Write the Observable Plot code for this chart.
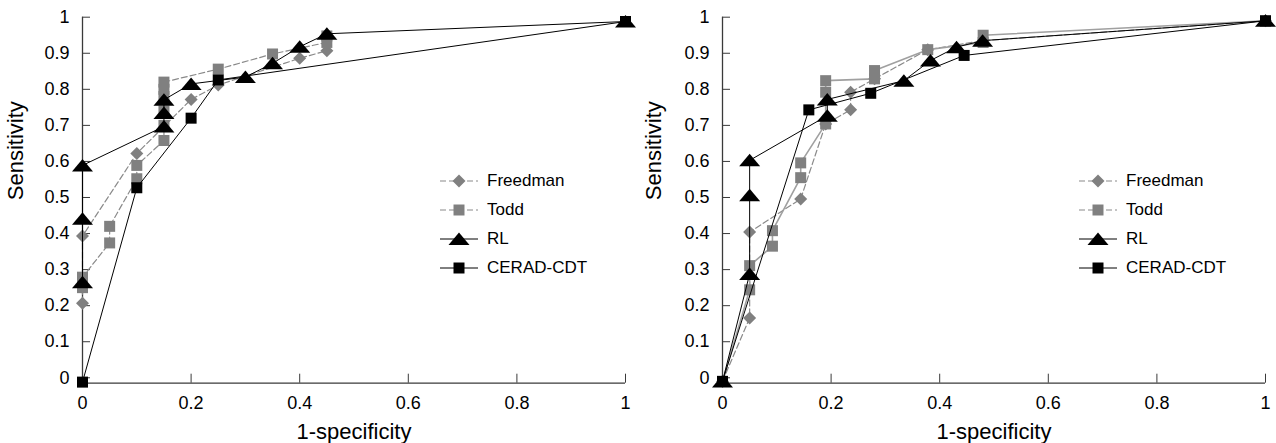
<!DOCTYPE html>
<html><head><meta charset="utf-8">
<script src="https://cdn.jsdelivr.net/npm/d3@7"></script>
<script src="https://cdn.jsdelivr.net/npm/@observablehq/plot@0.6"></script>
<style>
html,body{margin:0;padding:0;background:#fff;}
#wrap{position:relative;width:1276px;height:443px;display:flex;font-family:"Liberation Sans",Arial,sans-serif;}
.legend{position:absolute;font-size:17px;color:#000;}
.legend .row{display:flex;align-items:center;height:29px;}
.legend svg{margin-right:9px;overflow:visible}
</style></head><body><div id="wrap"></div>
<script>
// ---- data ----
const xTicks = [0, 0.2, 0.4, 0.6, 0.8, 1];
const yTicks = [0, 0.1, 0.2, 0.3, 0.4, 0.5, 0.6, 0.7, 0.8, 0.9, 1];
const seriesNames = ["Freedman", "Todd", "RL", "CERAD-CDT"];
const xTitle = "1-specificity";
const yTitle = "Sensitivity";

// left panel [1-specificity, sensitivity]
const freedmanLeft = [[0,0.207],[0,0.393],[0.1,0.622],[0.2,0.772],[0.25,0.812],[0.4,0.886],[0.45,0.907]];
const toddLeft = [[0,0.25],[0,0.279],[0.05,0.374],[0.05,0.42],[0.1,0.552],[0.1,0.589],[0.15,0.658],[0.15,0.70],[0.15,0.74],[0.15,0.78],[0.15,0.80],[0.15,0.82],[0.25,0.856],[0.35,0.898],[0.45,0.93],[0.45,0.948]];
const rlLeft = [[0,0.265],[0,0.441],[0,0.589],[0.15,0.697],[0.15,0.734],[0.15,0.771],[0.2,0.815],[0.3,0.834],[0.35,0.872],[0.4,0.918],[0.45,0.954],[1,0.988]];
const ceradLeft = [[0,-0.012],[0.1,0.527],[0.2,0.72],[0.25,0.826],[1,0.988]];

// right panel
const freedmanRight = [[0,-0.01],[0.05,0.166],[0.05,0.404],[0.144,0.496],[0.19,0.704],[0.236,0.743],[0.236,0.792],[0.28,0.829],[0.378,0.91],[0.48,0.935],[1,0.99]];
const toddRight = [[0,-0.01],[0.05,0.244],[0.05,0.311],[0.092,0.365],[0.092,0.408],[0.144,0.555],[0.144,0.596],[0.19,0.704],[0.19,0.792],[0.19,0.824],[0.28,0.829],[0.28,0.852],[0.378,0.91],[0.48,0.93],[0.48,0.95],[1,0.99]];
const rlRight = [[0,-0.01],[0.05,0.288],[0.05,0.506],[0.05,0.603],[0.193,0.727],[0.193,0.772],[0.334,0.824],[0.383,0.88],[0.431,0.917],[0.479,0.935],[1,0.99]];
const ceradRight = [[0,-0.01],[0.159,0.743],[0.273,0.789],[0.445,0.894],[1,0.99]];

// ---- styles ----
const diamond = {draw(c){c.moveTo(0,-6.5);c.lineTo(6.5,0);c.lineTo(0,6.5);c.lineTo(-6.5,0);c.closePath();}};
const square = {draw(c){c.moveTo(-5.5,-5.5);c.lineTo(5.5,-5.5);c.lineTo(5.5,5.5);c.lineTo(-5.5,5.5);c.closePath();}};
const triangle = {draw(c){c.moveTo(0,-6.5);c.lineTo(10.5,6);c.lineTo(-10.5,6);c.closePath();}};

const styleLeft = {
  "Freedman": {stroke:"#8a8a8a", width:1.2, dash:"6,3", fill:"#808080", symbol:diamond},
  "Todd": {stroke:"#8a8a8a", width:1.2, dash:"6,3", fill:"#808080", symbol:square},
  "RL": {stroke:"#000", width:1, dash:null, fill:"#000", symbol:triangle},
  "CERAD-CDT": {stroke:"#000", width:1, dash:null, fill:"#000", symbol:square}
};
const styleRight = {
  ...styleLeft,
  "Todd": {stroke:"#a0a0a0", width:1.6, dash:null, fill:"#808080", symbol:square}
};

const axisColor = "#3a3a3a";
const yMin = -0.015;

function panel(seriesData, style, marginLeft, marginRight) {
  const marks = [
    Plot.ruleY([yMin], {x1: 0, x2: 1, stroke: axisColor, strokeWidth: 1.3}),
    Plot.ruleX([0], {y1: yMin, y2: 1, stroke: axisColor, strokeWidth: 1.3}),
    Plot.ruleY(yTicks, {y: d => d, x1: 0, x2: 0, insetRight: -8, stroke: axisColor}),
    Plot.ruleX(xTicks, {x: d => d, y1: yMin, y2: yMin, insetTop: -9, stroke: axisColor}),
    Plot.axisY({ticks: yTicks, tickSize: 0, tickPadding: 13, tickFormat: d => String(d), label: null, fontSize: 18}),
    Plot.axisX({ticks: xTicks, tickSize: 0, tickPadding: 13, tickFormat: d => String(d), label: null, fontSize: 18}),
    Plot.text([xTitle], {text: d => d, frameAnchor: "bottom", dy: 49, fontSize: 22, lineAnchor: "middle"}),
    Plot.text([yTitle], {text: d => d, frameAnchor: "left", dx: -(marginLeft - 15), rotate: -90, fontSize: 22, lineAnchor: "middle"})
  ];
  seriesNames.forEach((name, i) => {
    const s = style[name];
    marks.push(Plot.line(seriesData[i], {x: d => d[0], y: d => d[1], stroke: s.stroke, strokeWidth: s.width, strokeDasharray: s.dash}));
    marks.push(Plot.dot(seriesData[i], {x: d => d[0], y: d => d[1], symbol: s.symbol, fill: s.fill, stroke: "none"}));
  });
  return Plot.plot({
    width: 638, height: 443,
    marginLeft, marginRight, marginTop: 16.7, marginBottom: 60.3,
    x: {domain: [0, 1]},
    y: {domain: [yMin, 1]},
    style: {fontFamily: '"Liberation Sans", Arial, sans-serif', color: "#000", background: "#fff", overflow: "visible"},
    marks
  });
}

function legend(style, left, top) {
  const div = document.createElement("div");
  div.className = "legend";
  div.style.left = left + "px";
  div.style.top = top + "px";
  seriesNames.forEach(name => {
    const s = style[name];
    const p = d3.path(); s.symbol.draw(p);
    const row = document.createElement("div");
    row.className = "row";
    row.innerHTML = `<svg width="38" height="16"><line x1="0" x2="38" y1="8" y2="8" stroke="${s.stroke}" stroke-width="${s.width}" ${s.dash ? `stroke-dasharray="${s.dash}"` : ""}/><path transform="translate(19,8)" d="${p.toString()}" fill="${s.fill}"/></svg><span>${name}</span>`;
    div.appendChild(row);
  });
  return div;
}

const wrap = document.getElementById("wrap");
wrap.appendChild(panel([freedmanLeft, toddLeft, rlLeft, ceradLeft], styleLeft, 82, 13));
wrap.appendChild(panel([freedmanRight, toddRight, rlRight, ceradRight], styleRight, 84, 11));
wrap.appendChild(legend(styleLeft, 440, 166));
wrap.appendChild(legend({...styleRight, "Todd": styleLeft["Todd"]}, 1079, 166));
</script></body></html>
